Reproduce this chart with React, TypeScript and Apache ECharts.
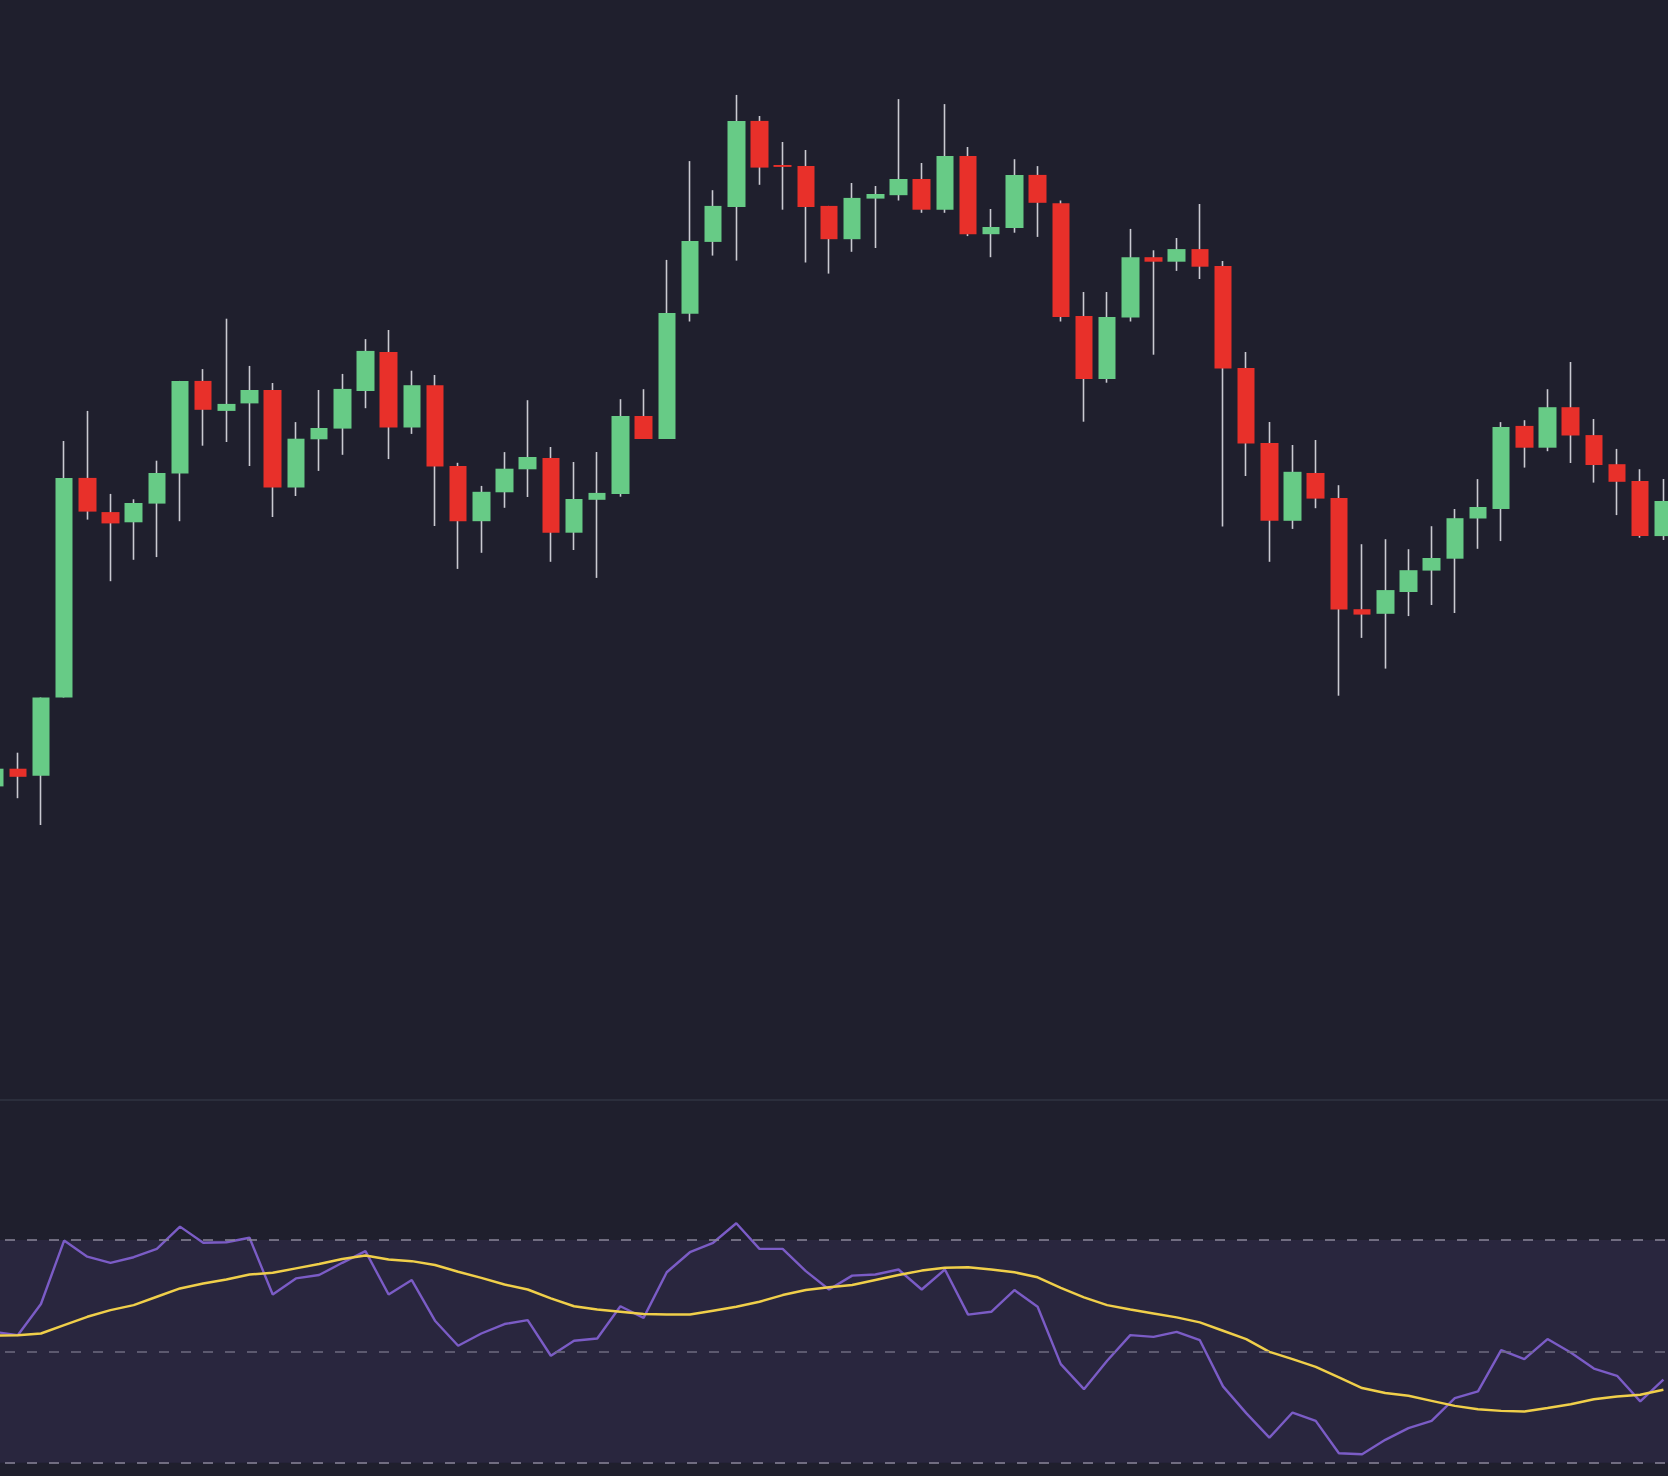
import { useEffect, useRef } from "react";
import * as echarts from "echarts";

// one entry per session, left to right
const opens = [
  121.36, 123.13, 122.43, 130.25, 152.21, 148.79, 147.77, 149.64, 152.64, 161.91,
  158.91, 159.66, 161, 151.25, 156.07, 157.14, 160.9, 164.8, 157.25, 161.48,
  153.39, 147.88, 150.77, 153.07, 154.2, 146.73, 150.02, 150.6, 158.4, 156.1,
  168.62, 175.81, 179.3, 187.91, 183.5, 183.4, 179.41, 176.08, 180.14, 180.48,
  182.1, 179.03, 184.39, 176.58, 177.19, 182.51, 179.68, 168.4, 162.11, 168.24,
  174.28, 173.83, 175.09, 173.4, 163.19, 155.69, 147.92, 152.7, 150.21, 139.08,
  138.62, 140.8, 142.94, 144.13, 148.15, 149.1, 157.41, 155.23, 159.28, 156.49,
  153.58, 151.9, 146.39,
];
const closes = [
  123.13, 122.32, 130.25, 152.21, 148.84, 147.66, 149.7, 152.7, 161.91, 159.02,
  159.61, 161, 151.25, 156.13, 157.2, 161.11, 164.91, 157.25, 161.48, 153.34,
  147.88, 150.82, 153.13, 154.3, 146.73, 150.1, 150.71, 158.4, 156.1, 168.7,
  175.9, 179.41, 187.91, 183.24, 183.31, 179.3, 176.08, 180.21, 180.6, 182.1,
  179.03, 184.39, 176.58, 177.3, 182.51, 179.72, 168.31, 162.11, 168.31, 174.28,
  173.83, 175.09, 173.33, 163.15, 155.65, 147.92, 152.82, 150.14, 139.04, 138.54,
  140.99, 142.98, 144.2, 148.18, 149.3, 157.3, 155.23, 159.28, 156.45, 153.5,
  151.82, 146.39, 149.9,
];
const lows = [
  120.8, 120.18, 117.5, 130.25, 148.04, 141.88, 144.02, 144.29, 147.88, 155.43,
  155.8, 153.4, 148.3, 150.4, 152.91, 154.52, 159.18, 154.09, 156.61, 147.4,
  143.11, 144.72, 149.22, 150.3, 143.82, 145, 142.21, 150.33, 156.1, 156.1,
  167.85, 174.44, 173.94, 181.52, 179.03, 173.75, 172.64, 174.82, 175.2, 179.95,
  178.72, 178.72, 176.39, 174.28, 176.73, 176.31, 167.85, 157.83, 161.73, 167.85,
  164.53, 172.91, 172.1, 147.34, 152.4, 143.82, 147.11, 149.18, 130.43, 136.21,
  133.14, 138.39, 139.5, 138.7, 145.12, 145.89, 153.24, 154.88, 153.7, 151.74,
  148.49, 146.23, 146,
];
const highs = [
  123.8, 124.73, 130.25, 155.91, 158.91, 150.61, 150.07, 153.93, 161.91, 163.09,
  168.13, 163.41, 161.7, 157.79, 161, 162.61, 166.09, 167, 162.93, 162.5,
  153.72, 151.41, 154.79, 159.98, 155.3, 153.8, 154.8, 160.08, 161.08, 174.01,
  183.89, 180.98, 190.51, 188.4, 185.8, 185, 179.41, 181.7, 181.4, 190.09,
  183.7, 189.59, 185.3, 179.1, 184.08, 183.39, 179.95, 170.8, 170.8, 177.11,
  174.97, 176.2, 179.6, 173.9, 164.8, 157.8, 155.5, 156, 151.48, 145.58,
  146.08, 145.08, 147.38, 149.1, 152.09, 157.79, 157.98, 161.08, 163.8, 158.1,
  155.11, 153.08, 152.1,
];
const rsi = [
  53.5, 52.9, 58.5, 69.9, 67.0, 65.9, 66.9, 68.4, 72.4, 69.5,
  69.6, 70.4, 60.2, 63.1, 63.7, 65.9, 68.0, 60.2, 62.8, 55.5,
  51.0, 53.2, 54.9, 55.6, 49.2, 51.9, 52.3, 58.1, 56.0, 64.2,
  67.8, 69.5, 73.0, 68.4, 68.4, 64.4, 61.1, 63.6, 63.8, 64.7,
  61.1, 64.7, 56.6, 57.1, 61.0, 58.0, 47.7, 43.2, 48.3, 52.9,
  52.6, 53.5, 52.0, 43.7, 38.9, 34.5, 39.0, 37.5, 31.7, 31.5,
  34.1, 36.2, 37.5, 41.6, 42.8, 50.2, 48.6, 52.2, 49.8, 46.9,
  45.6, 41.0, 44.9,
];
const rsiSignal = [
  52.8, 52.9, 53.2, 54.7, 56.2, 57.4, 58.3, 59.8, 61.3, 62.2,
  62.9, 63.8, 64.1, 64.9, 65.7, 66.6, 67.2, 66.5, 66.2, 65.5,
  64.3, 63.2, 62.0, 61.1, 59.5, 58.1, 57.5, 57.1, 56.7, 56.6,
  56.6, 57.3, 58.0, 58.9, 60.1, 61.0, 61.5, 61.9, 62.8, 63.7,
  64.5, 65.0, 65.1, 64.7, 64.2, 63.3, 61.4, 59.7, 58.3, 57.5,
  56.8, 56.1, 55.2, 53.7, 52.2, 49.9, 48.6, 47.2, 45.3, 43.4,
  42.5, 42.0, 41.1, 40.2, 39.6, 39.3, 39.2, 39.8, 40.5, 41.4,
  41.9, 42.2, 43.1,
];
const rsiUpper = 70;
const rsiMiddle = 50;
const rsiLower = 30;

const categories = opens.map((_, i) => String(i + 1));

const UP = "#67cb86";
const DOWN = "#e8302a";
const WICK = "#c9c9d1";
const BG = "#1f1f2d";

function buildOption() {
  const wickData = opens.map((o, i) => [o, closes[i], lows[i], highs[i]]);
  const bodyData = opens.map((o, i) => [
    o,
    closes[i],
    Math.min(o, closes[i]),
    Math.max(o, closes[i]),
  ]);

  return {
    animation: false,
    backgroundColor: BG,
    grid: [
      { left: 0, right: 0, top: 0, height: 1100 },
      { left: 0, right: 0, top: 1101, bottom: 0 },
    ],
    xAxis: [
      { type: "category", data: categories, gridIndex: 0, show: false, boundaryGap: true },
      { type: "category", data: categories, gridIndex: 1, show: false, boundaryGap: true },
    ],
    yAxis: [
      { type: "value", gridIndex: 0, min: 90, max: 200, show: false, splitLine: { show: false } },
      { type: "value", gridIndex: 1, min: 27.6, max: 94.97, show: false, splitLine: { show: false } },
    ],
    graphic: [
      {
        type: "rect",
        left: 0,
        top: 1099,
        shape: { width: 1692, height: 2 },
        style: { fill: "#2b2e3c" },
        silent: true,
        z: 0,
      },
    ],
    series: [
      {
        name: "wicks",
        type: "candlestick",
        xAxisIndex: 0,
        yAxisIndex: 0,
        data: wickData,
        barWidth: 1,
        z: 2,
        itemStyle: {
          color: WICK,
          color0: WICK,
          borderColor: WICK,
          borderColor0: WICK,
          borderWidth: 1.6,
        },
      },
      {
        name: "bodies",
        type: "candlestick",
        xAxisIndex: 0,
        yAxisIndex: 0,
        data: bodyData,
        barWidth: 18,
        z: 3,
        itemStyle: {
          color: UP,
          color0: DOWN,
          borderColor: UP,
          borderColor0: DOWN,
          borderWidth: 0,
        },
      },
      {
        name: "RSI",
        type: "line",
        xAxisIndex: 1,
        yAxisIndex: 1,
        data: rsi,
        symbol: "none",
        z: 3,
        lineStyle: { color: "#7b5cc6", width: 2.4 },
        markArea: {
          silent: true,
          itemStyle: { color: "#29263e" },
          data: [[{ yAxis: rsiLower }, { yAxis: rsiUpper }]],
        },
        markLine: {
          silent: true,
          symbol: "none",
          label: { show: false },
          data: [
            { yAxis: rsiUpper, lineStyle: { color: "#8a879a", width: 1.6, type: [10, 12] } },
            { yAxis: rsiMiddle, lineStyle: { color: "#6d6b80", width: 1.6, type: [10, 12] } },
            { yAxis: rsiLower, lineStyle: { color: "#8a879a", width: 1.6, type: [10, 12] } },
          ],
        },
      },
      {
        name: "RSI MA",
        type: "line",
        xAxisIndex: 1,
        yAxisIndex: 1,
        data: rsiSignal,
        symbol: "none",
        z: 4,
        lineStyle: { color: "#f0cf4a", width: 2.5 },
      },
    ],
  };
}

export default function App() {
  const chartRef = useRef<HTMLDivElement | null>(null);

  useEffect(() => {
    document.body.style.margin = "0";
    document.body.style.background = BG;
    if (!chartRef.current) return;
    const instance = echarts.init(chartRef.current, undefined, { renderer: "svg" });
    instance.setOption(buildOption() as any);
    return () => {
      instance.dispose();
    };
  }, []);

  return (
    <div
      style={{
        position: "fixed",
        left: 0,
        top: 0,
        width: 1668,
        height: 1476,
        overflow: "hidden",
        background: BG,
      }}
    >
      <div
        ref={chartRef}
        style={{ position: "absolute", left: -17, top: 0, width: 1692, height: 1476 }}
      />
    </div>
  );
}
